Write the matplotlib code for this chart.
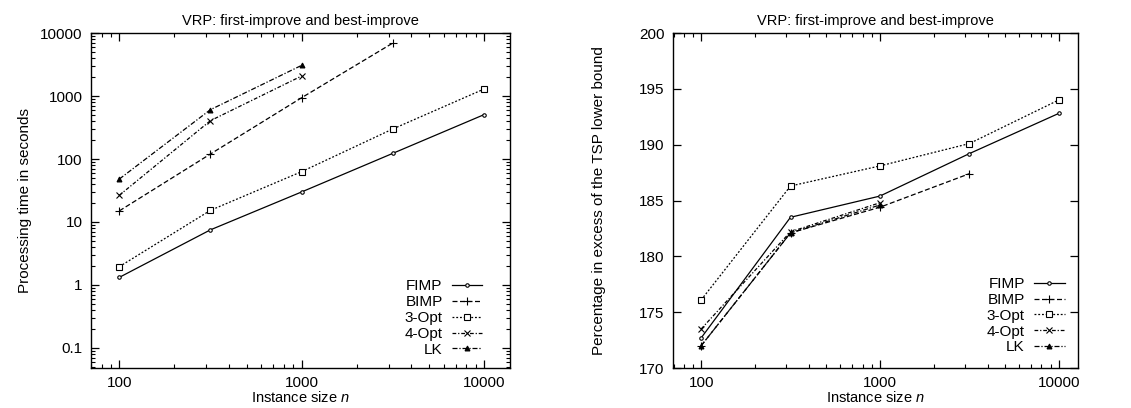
import matplotlib
matplotlib.use("Agg")
import matplotlib.pyplot as plt
from matplotlib.ticker import FixedLocator, FuncFormatter, LogLocator, NullFormatter, MultipleLocator

plt.rcParams['font.family'] = ['Liberation Sans', 'DejaVu Sans']
plt.rcParams['mathtext.fontset'] = 'custom'
plt.rcParams['mathtext.it'] = 'Liberation Sans:italic'
plt.rcParams['mathtext.rm'] = 'Liberation Sans'

title = "VRP: first-improve and best-improve"
sizes = [100, 316, 1000, 3162, 10000]
series_names = ["FIMP", "BIMP", "3-Opt", "4-Opt", "LK"]

# Left: processing time (s)
time_fimp = [1.32, 7.5, 30, 123, 506]
time_bimp = [15, 120, 940, 6940]
time_3opt = [1.95, 15.3, 63, 300, 1290]
time_4opt = [26.5, 406, 2080]
time_lk = [48, 607, 3070]

# Right: percentage in excess of TSP lower bound
pct_fimp = [172.7, 183.5, 185.4, 189.2, 192.8]
pct_bimp = [172.0, 182.1, 184.4, 187.4]
pct_3opt = [176.1, 186.3, 188.1, 190.1, 194.0]
pct_4opt = [173.5, 182.2, 184.8]
pct_lk = [172.0, 182.1, 184.6]

left_yticks = [0.1, 1, 10, 100, 1000, 10000]
left_yticklabels = ["0.1", "1", "10", "100", "1000", "10000"]
xticks = [100, 1000, 10000]
xticklabels = ["100", "1000", "10000"]
right_yticks = [170, 175, 180, 185, 190, 195, 200]

styles = {
    "FIMP": dict(linestyle='-', marker='o', markersize=2.5, markerfacecolor='white'),
    "BIMP": dict(linestyle=(0, (4, 2)), marker='+', markersize=6),
    "3-Opt": dict(linestyle=(0, (1.5, 1.5)), marker='s', markersize=4, markerfacecolor='white'),
    "4-Opt": dict(linestyle=(0, (3, 1.5, 1, 1.5)), marker='x', markersize=5),
    "LK": dict(linestyle=(0, (4, 1.5, 1, 1.5)), marker='^', markersize=3.5),
}

fig = plt.figure(figsize=(11.31, 4.08), dpi=100)
ax1 = fig.add_axes([0.0805, 0.098, 0.3705, 0.821])
ax2 = fig.add_axes([0.595, 0.098, 0.358, 0.821])

left_data = [time_fimp, time_bimp, time_3opt, time_4opt, time_lk]
right_data = [pct_fimp, pct_bimp, pct_3opt, pct_4opt, pct_lk]

for ax, data, anchor in ((ax1, left_data, (0.97, -0.012)), (ax2, right_data, (1.005, -0.005))):
    for name, vals in zip(series_names, data):
        ax.plot(sizes[:len(vals)], vals, color='black', linewidth=0.9,
                markeredgewidth=0.8, label=name, **styles[name])
    ax.set_xscale('log')
    ax.xaxis.set_major_locator(FixedLocator(xticks))
    ax.xaxis.set_major_formatter(FuncFormatter(lambda v, p: xticklabels[xticks.index(round(v))] if round(v) in xticks else ""))
    ax.xaxis.set_minor_locator(LogLocator(base=10, subs=range(2, 10)))
    ax.xaxis.set_minor_formatter(NullFormatter())
    ax.tick_params(which='both', direction='in', top=True, right=True, labelsize=11, pad=6)
    ax.tick_params(which='major', length=6, width=0.9)
    ax.tick_params(which='minor', length=3, width=0.8)
    for sp in ax.spines.values():
        sp.set_linewidth(1.0)
    ax.set_title(title, fontsize=10.5, pad=6)
    ax.set_xlabel("Instance size $n$", fontsize=10.5, labelpad=0)
    leg = ax.legend(loc='lower right', frameon=False, markerfirst=False, fontsize=11,
                    handlelength=2.0, handletextpad=0.6, labelspacing=0.12,
                    borderaxespad=0.6, bbox_to_anchor=anchor)
    for t in leg.get_texts():
        t.set_ha('right')

ax1.set_yscale('log')
ax1.set_xlim(70, 13900)
ax1.set_ylim(0.048, 10000)
ax1.yaxis.set_major_locator(FixedLocator(left_yticks))
ax1.yaxis.set_major_formatter(FuncFormatter(lambda v, p: left_yticklabels[min(range(len(left_yticks)), key=lambda i: abs(left_yticks[i] - v))]))
ax1.yaxis.set_minor_locator(LogLocator(base=10, subs=range(2, 10)))
ax1.yaxis.set_minor_formatter(NullFormatter())
ax1.set_ylabel("Processing time in seconds", fontsize=11, labelpad=6)

ax2.set_xlim(69.5, 12800)
ax2.set_ylim(170, 200)
ax2.yaxis.set_major_locator(FixedLocator(right_yticks))
ax2.yaxis.set_minor_locator(MultipleLocator(1))
ax2.tick_params(axis='y', which='minor', length=0)
ax2.set_ylabel("Percentage in excess of the TSP lower bound", fontsize=11, labelpad=24)

fig.savefig("out.png", dpi=100)
